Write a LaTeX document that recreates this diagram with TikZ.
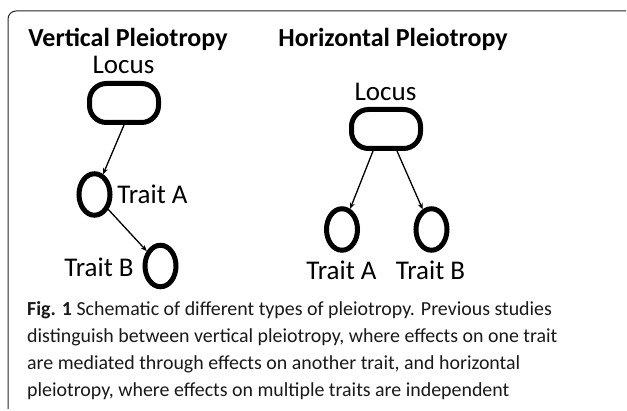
\documentclass[tikz,border=0pt]{standalone}
\usepackage{fontspec}
\setmainfont{Carlito}
\usetikzlibrary{arrows.meta,shapes.geometric}
\begin{document}
\begin{tikzpicture}[x=1pt,y=-1pt,
  locusbox/.style={draw=black,line width=5pt,rounded corners=17pt,minimum width=69pt,minimum height=39pt,inner sep=0pt},
  traitcirc/.style={draw=black,line width=5pt,ellipse,minimum width=31pt,minimum height=41.5pt,inner sep=0pt},
  lbl/.style={font=\fontsize{27}{27}\selectfont,inner sep=0pt,anchor=base},
  ttl/.style={font=\bfseries\fontsize{26}{26}\selectfont,inner sep=0pt,anchor=base},
  arr/.style={line width=1.3pt,-{Stealth[length=6pt,width=5pt]}}
]
\useasboundingbox (0,0) rectangle (627,411);
\fill[white] (0,0) rectangle (627,411);
% frame
\draw[line width=1pt,black!85,rounded corners=8pt] (626,11) -- (8,11) -- (8,409);
% titles
\node[ttl] (tv) at (128,47) {Vertical Pleiotropy};
\node[ttl] (th) at (393,47) {Horizontal Pleiotropy};
% vertical
\node[lbl] (vlt) at (123.5,74) {Locus};
\node[locusbox] (vl) at (124,103) {};
\node[traitcirc] (va) at (94.5,194.5) {};
\node[lbl] (vat) at (152.5,204) {Trait A};
\node[traitcirc] (vb) at (160.5,266) {};
\node[lbl] (vbt) at (99,277) {Trait B};
\draw[arr] (vl.south) -- (va);
\draw[arr] (va) -- (vb);
% horizontal
\node[lbl] (hlt) at (385.5,101) {Locus};
\node[locusbox] (hl) at (386,129) {};
\node[traitcirc] (ha) at (342,229.5) {};
\node[traitcirc] (hb) at (431.5,229.5) {};
\node[lbl] (hat) at (341.5,280) {Trait A};
\node[lbl] (hbt) at (430.5,280) {Trait B};
\coordinate (hl1) at (373,151);
\coordinate (hl2) at (397,151);
\draw[arr] (hl1) -- (ha);
\draw[arr] (hl2) -- (hb);
% caption
\node[anchor=base west,inner sep=0pt,align=left,font=\fontsize{19.9}{27}\selectfont,text=black!90] (cap) at (27,397)
{\textbf{Fig. 1} Schematic of different types of pleiotropy. Previous studies\\
distinguish between vertical pleiotropy, where effects on one trait\\
are mediated through effects on another trait, and horizontal\\
pleiotropy, where effects on multiple traits are independent};
\end{tikzpicture}
\end{document}
